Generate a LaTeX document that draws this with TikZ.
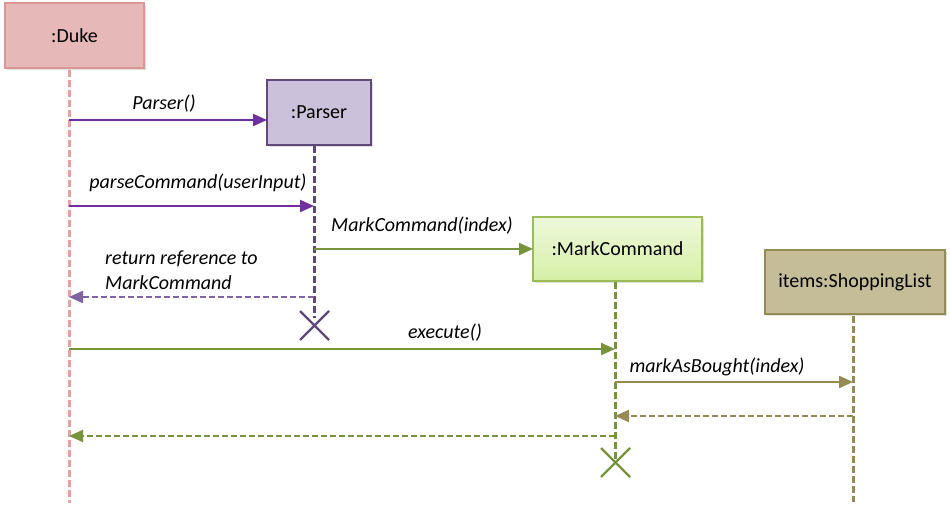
\documentclass[tikz,border=0pt]{standalone}
\usepackage{fontspec}
\setmainfont{Carlito}
\usetikzlibrary{arrows.meta,shadows}
\definecolor{dukefill}{HTML}{E6B9B8}
\definecolor{dukeline}{HTML}{D99694}
\definecolor{dukelife}{HTML}{E6A0A0}
\definecolor{parfill}{HTML}{CCC1DA}
\definecolor{parline}{HTML}{5F497A}
\definecolor{purp}{HTML}{7030A0}
\definecolor{purpret}{HTML}{8064A2}
\definecolor{mcline}{HTML}{9BBB59}
\definecolor{mctop}{HTML}{EEF8DC}
\definecolor{mcbot}{HTML}{D6F0A6}
\definecolor{grn}{HTML}{77933C}
\definecolor{slfill}{HTML}{C4BD97}
\definecolor{slline}{HTML}{948A54}
\begin{document}
\begin{tikzpicture}[x=1pt,y=-1pt,
  every node/.style={font=\fontsize{20}{24}\selectfont},
  obj/.style={draw, line width=2pt, inner sep=0pt, drop shadow={shadow xshift=2pt,shadow yshift=-2pt,opacity=0.25}},
  life/.style={line width=3pt, dash pattern=on 7pt off 3pt},
  msg/.style={line width=2.2pt, -{Triangle[length=14pt,width=12pt]}},
  ret/.style={line width=2.2pt, dash pattern=on 6pt off 3pt, -{Triangle[length=14pt,width=12pt]}},
  lbl/.style={font=\fontsize{20}{25}\selectfont\itshape, inner sep=0pt},
  xmark/.style={line width=2.2pt}]
\useasboundingbox (0,0) rectangle (950,511);
% objects
\node[obj, fill=dukefill, draw=dukeline, minimum width=139pt, minimum height=65pt] (duke) at (74.5,35.5) {:Duke};
\node[obj, fill=parfill, draw=parline, minimum width=104pt, minimum height=65pt] (parser) at (319,112.5) {:Parser};
\node[obj, top color=mctop, bottom color=mcbot, draw=mcline, minimum width=169pt, minimum height=64pt] (mc) at (617.5,249) {:MarkCommand};
\node[obj, fill=slfill, draw=slline, minimum width=180pt, minimum height=64pt] (sl) at (855,282) {items:ShoppingList};
% lifeline coordinates
\coordinate (dukeEnd) at (69,503);
\coordinate (parEnd) at (314,318);
\coordinate (mcEnd) at (615,460);
\coordinate (slEnd) at (853,502);
\coordinate (dukeTop) at (69,70);
\coordinate (parTop) at (314,146);
\coordinate (mcTop) at (615,282);
\coordinate (slTop) at (853,316);
\draw[life, draw=dukelife] (dukeTop) -- (dukeEnd);
\draw[life, draw=parline] (parTop) -- (parEnd);
\draw[life, draw=grn] (mcTop) -- (mcEnd);
\draw[life, draw=slline] (slTop) -- (slEnd);
% message points
\coordinate (d1) at (69,120); \coordinate (p1) at (267,120);
\coordinate (d2) at (69,206); \coordinate (p2) at (314,206);
\coordinate (p3) at (314,249); \coordinate (m3) at (533,249);
\coordinate (p4) at (314,297); \coordinate (d4) at (69,297);
\coordinate (d5) at (69,349); \coordinate (m5) at (615,349);
\coordinate (m6) at (615,382); \coordinate (s6) at (853,382);
\coordinate (s7) at (853,416); \coordinate (m7) at (615,416);
\coordinate (m8) at (615,436); \coordinate (d8) at (69,436);
\draw[msg, draw=purp] (d1) -- (p1);
\draw[msg, draw=purp] (d2) -- (p2);
\draw[msg, draw=grn] (p3) -- (m3);
\draw[ret, draw=purpret] (p4) -- (d4);
\draw[msg, draw=grn] (d5) -- (m5);
\draw[msg, draw=slline] (m6) -- (s6);
\draw[ret, draw=slline] (s7) -- (m7);
\draw[ret, draw=grn] (m8) -- (d8);
% labels
\node[lbl] (l1) at (164,104) {Parser()};
\node[lbl] (l2) at (198,183) {parseCommand(userInput)};
\node[lbl] (l3) at (422,226) {MarkCommand(index)};
\node[lbl, anchor=west, align=left] (l4) at (105,270) {return reference to\\MarkCommand};
\node[lbl] (l5) at (445,333) {execute()};
\node[lbl] (l6) at (717,367) {markAsBought(index)};
% destruction marks
\draw[xmark, draw=parline] (300,311) -- (329,340) (300,340) -- (329,311);
\draw[xmark, draw=grn] (601,448) -- (630,477) (601,477) -- (630,448);
\end{tikzpicture}
\end{document}
